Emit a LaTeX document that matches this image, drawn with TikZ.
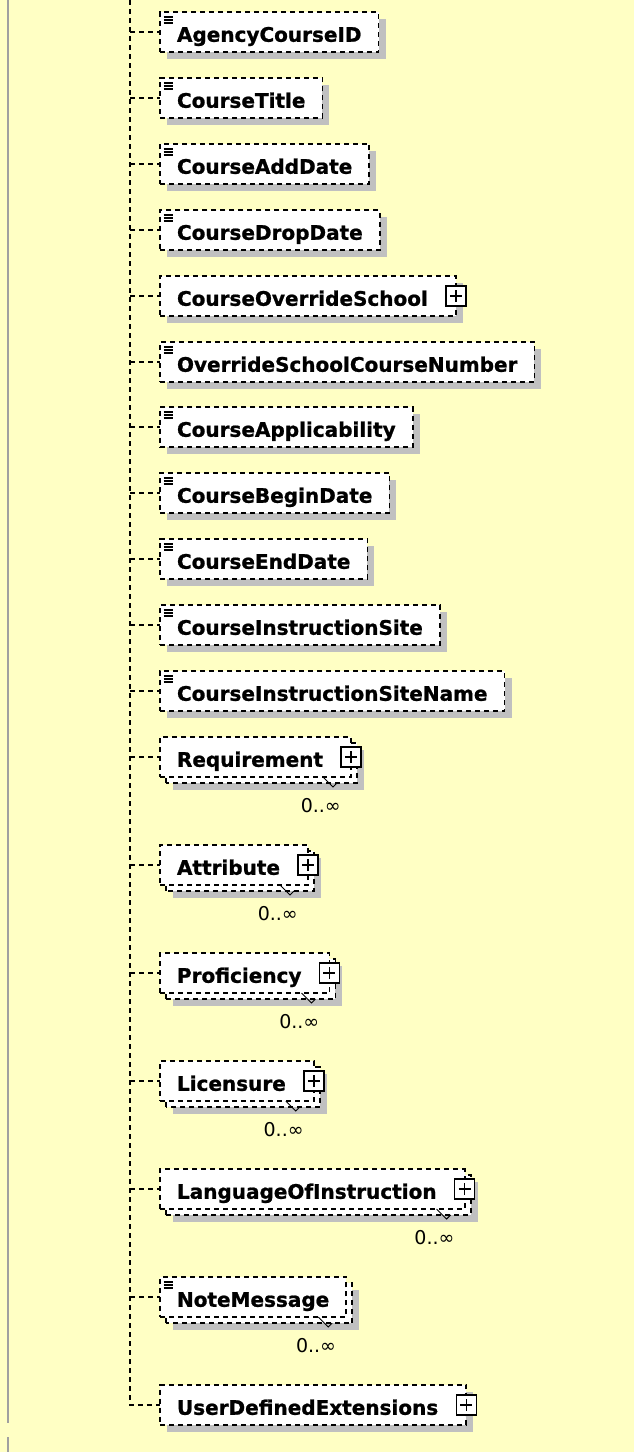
\documentclass[tikz,border=0pt]{standalone}
\usepackage{fontspec}
\newfontfamily\elemfont{DejaVu Sans}[BoldFeatures={FakeBold=1}]
\definecolor{paper}{HTML}{FFFFC4}
\definecolor{shadegray}{HTML}{C0C0C0}
\definecolor{railgray}{HTML}{A0A0A0}
\pgfdeclarelayer{bg}
\pgfdeclarelayer{shade}
\pgfdeclarelayer{stack}
\pgfsetlayers{bg,shade,stack,main}

\begin{document}
\begin{tikzpicture}[x=1pt, y=-1pt,
  link/.style={dash pattern=on 5pt off 4pt, line width=1.8pt},
  elem/.style={link, draw, fill=white, anchor=west, outer sep=0pt,
    minimum height=40pt, inner xsep=17pt, inner ysep=0pt,
    text height=19.5pt, text depth=0pt,
    font=\elemfont\bfseries\fontsize{20}{24}\selectfont},
  occurs/.style={anchor=east, inner sep=0pt,
    font=\elemfont\fontsize{19}{21}\selectfont},
  plusbox/.style={draw, solid, fill=white, line width=1.5pt,
    minimum size=20pt, inner sep=0pt}]
 \useasboundingbox (0,0) rectangle (634,1452);
 \begin{pgfonlayer}{bg}
  \fill[paper] (0,0) rectangle (634,1452);
 \end{pgfonlayer}
 \draw[railgray, line width=2.5pt] (8,0) -- (8,1423) (8,1437) -- (8,1452);
 \coordinate (trunk) at (130,0);

 % name / text / y / simple / plus / many
 \foreach \nm/\txt/\yy/\sim/\pls/\mul in {
   agency/AgencyCourseID/32/1/0/0,
   title/CourseTitle/98/1/0/0,
   adddate/CourseAddDate/164/1/0/0,
   dropdate/CourseDropDate/230/1/0/0,
   override/CourseOverrideSchool/296/0/1/0,
   number/OverrideSchoolCourseNumber/362/1/0/0,
   applic/CourseApplicability/427/1/0/0,
   begindate/CourseBeginDate/493/1/0/0,
   enddate/CourseEndDate/559/1/0/0,
   site/CourseInstructionSite/625/1/0/0,
   sitename/CourseInstructionSiteName/691/1/0/0,
   requirement/Requirement/757/0/1/1,
   attribute/Attribute/865/0/1/1,
   proficiency/Proficiency/973/0/1/1,
   licensure/Licensure/1081/0/1/1,
   language/LanguageOfInstruction/1189/0/1/1,
   note/NoteMessage/1297/1/0/1,
   userdef/UserDefinedExtensions/1405/0/1/0}
 {
  \node[elem] (\nm) at (160,\yy) {\txt\ifnum\pls=1\hspace*{11pt}\fi};
  \pgfmathsetmacro\sh{7+6*\mul}
  \begin{pgfonlayer}{shade}
   \fill[shadegray] ([shift={(\sh,\sh)}]\nm.south west) rectangle ([shift={(\sh,\sh)}]\nm.north east);
  \end{pgfonlayer}
  \ifnum\mul=1
   \begin{pgfonlayer}{stack}
    \draw[link, fill=white] ([shift={(6,6)}]\nm.south west) rectangle ([shift={(6,6)}]\nm.north east);
   \end{pgfonlayer}
   \draw[line width=0.9pt] ([xshift=-28pt]\nm.south east) -- ++(10,10) -- ++(4,-4);
   \node[occurs] (\nm-m) at ([shift={(-10,49)}]\nm.east) {0..∞};
  \fi
  \ifnum\sim=1
   \foreach \k in {0,1,2}
    \draw[line width=1.4pt] ([shift={(3.5,5+3*\k)}]\nm.north west) -- ++(9,0);
  \fi
  \ifnum\pls=1
   \node[plusbox] (\nm-x) at (\nm.east) {};
   \draw[line width=1.5pt] ([xshift=-6pt]\nm-x.center) -- ([xshift=6pt]\nm-x.center)
     ([yshift=-6pt]\nm-x.center) -- ([yshift=6pt]\nm-x.center);
  \fi
  \ifnum\yy<1400
   \draw[link] (trunk |- \nm.west) -- (\nm.west);
  \fi
 }
 \draw[link] (trunk) |- (userdef.west);
\end{tikzpicture}
\end{document}
